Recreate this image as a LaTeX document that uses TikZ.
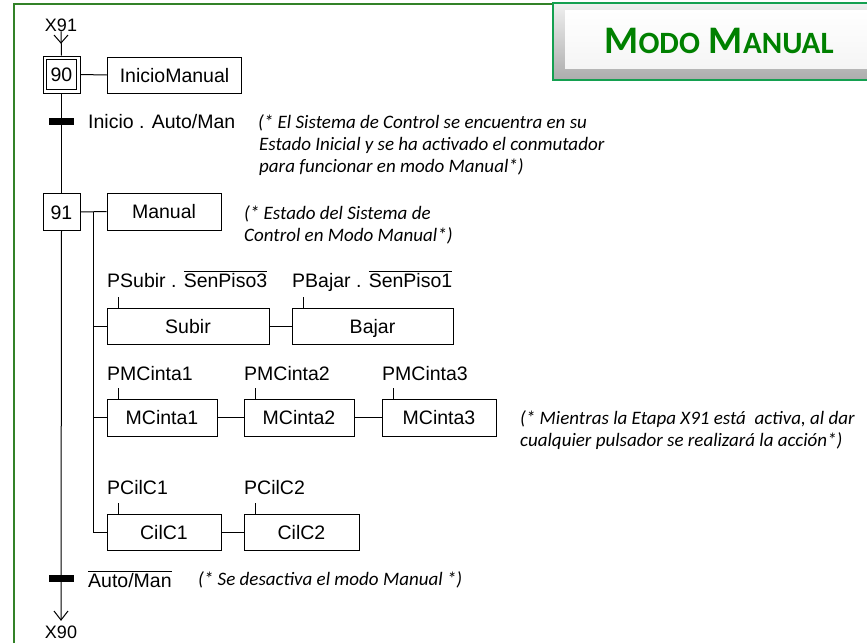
\documentclass[tikz,border=0pt]{standalone}
\usepackage{fontspec}
\setmainfont{Liberation Sans}
\newfontfamily\calib{Carlito}
\definecolor{framegreen}{RGB}{50,130,40}
\definecolor{boxgreen}{RGB}{20,160,80}
\definecolor{titlegreen}{RGB}{0,128,0}
\newcommand\ovl[1]{$\overline{\mbox{#1}}$}
\begin{document}
\begin{tikzpicture}[x=1pt,y=-1pt,
  lbl/.style={font=\fontsize{19.5}{22}\selectfont, inner sep=0},
  act/.style={draw, line width=1pt, inner sep=0, minimum height=36pt, text height=16pt, text depth=2pt, font=\fontsize{19.5}{22}\selectfont},
  stepbox/.style={draw, line width=1pt, inner sep=0, minimum width=37pt, minimum height=37pt, text height=16pt, text depth=2pt, font=\fontsize{19.5}{22}\selectfont},
  note/.style={font=\calib\itshape\fontsize{19}{22}\selectfont, inner sep=0, anchor=base west},
  trbar/.style={fill=black, minimum width=25pt, minimum height=7pt, inner sep=0},
  wire/.style={line width=1pt}]
\useasboundingbox (0,0) rectangle (867,643);
\fill[white] (0,0) rectangle (867,643);
% frame
\draw[framegreen, line width=2pt] (14,643) -- (14,4) -- (553,4);
% title box
\shade[top color=gray!12, bottom color=gray!65] (553,3) rectangle (870,80);
\shade[top color=white, bottom color=gray!8] (565,10) rectangle (870,68);
\draw[boxgreen, line width=2pt] (870,3) -- (553,3) -- (553,80) -- (870,80);
\node[inner sep=0, anchor=base, text=titlegreen, font=\calib\bfseries] (title) at (719,53)
  {{\fontsize{39}{39}\selectfont M}{\fontsize{31}{31}\selectfont ODO}\hspace{9pt}{\fontsize{39}{39}\selectfont M}{\fontsize{31}{31}\selectfont ANUAL}};
% steps
\node[lbl, anchor=base, font=\fontsize{18}{20}\selectfont] (x91) at (61,31) {X91};
\node[stepbox] (s90) at (61.5,74.5) {90};
\draw[line width=1pt] ([shift={(4,4)}]s90.north west) rectangle ([shift={(-4,-4)}]s90.south east);
\node[stepbox] (s91) at (61.5,212) {91};
\node[lbl, anchor=base, font=\fontsize{18}{20}\selectfont] (x90) at (61,638) {X90};
\coordinate (vtop) at (61,43);
\coordinate (vbot) at (61,620);
\draw[wire] (x91.south) -- (s90.north);
\draw[wire] (54,35) -- (vtop) -- (68,35);
\draw[wire] (s90.south) -- (s91.north);
\draw[wire] (s91.south) -- (vbot);
\draw[wire] (54,611) -- (vbot) -- (68,611);
\node[trbar] (t1) at (61,121) {};
\node[trbar] (t2) at (61,578) {};
\node[lbl, anchor=base west] (t1l) at (88,128) {Inicio . Auto/Man};
\node[lbl, anchor=base west] (t2l) at (88,587) {\ovl{Auto/Man}};
% actions
\node[act, minimum width=134.5pt] (ini) at (174.5,75) {InicioManual};
\draw[wire] (s90.east) -- (ini.west);
\node[act, minimum width=114pt, minimum height=37pt] (man) at (164,211.5) {Manual};
\draw[wire] (s91.east) -- (man.west);
\coordinate (br) at (93,212);
\node[act, minimum width=162pt] (sub) at (188,326) {Subir};
\node[act, minimum width=161pt] (baj) at (372.5,326) {Bajar};
\node[act, minimum width=110pt, minimum height=37pt] (m1) at (162,417.5) {MCinta1};
\node[act, minimum width=110pt, minimum height=37pt] (m2) at (299,417.5) {MCinta2};
\node[act, minimum width=114pt, minimum height=37pt] (m3) at (439,417.5) {MCinta3};
\node[act, minimum width=114pt] (c1) at (164,532) {CilC1};
\node[act, minimum width=115pt] (c2) at (301.5,532) {CilC2};
\draw[wire] (br) |- (c1.west);
\draw[wire] (br |- sub.west) -- (sub.west);
\draw[wire] (br |- m1.west) -- (m1.west);
\draw[wire] (sub.east) -- (baj.west);
\draw[wire] (m1.east) -- (m2.west);
\draw[wire] (m2.east) -- (m3.west);
\draw[wire] (c1.east) -- (c2.west);
% conditions
\node[lbl, anchor=base west] (lsub) at (107,287) {PSubir . \ovl{SenPiso3}};
\node[lbl, anchor=base west] (lbaj) at (292,287) {PBajar . \ovl{SenPiso1}};
\node[lbl, anchor=base west] (lm1) at (107,380) {PMCinta1};
\node[lbl, anchor=base west] (lm2) at (244,380) {PMCinta2};
\node[lbl, anchor=base west] (lm3) at (382,380) {PMCinta3};
\node[lbl, anchor=base west] (lc1) at (107,494) {PCilC1};
\node[lbl, anchor=base west] (lc2) at (244,494) {PCilC2};
\foreach \b in {sub,baj,m1,m2,m3,c1,c2}
  \draw[wire] ([xshift=11.5pt]\b.north west) -- ++(0,-11);
% notes
\node[note] (n1a) at (258,128.5) {(* El Sistema de Control se encuentra en su};
\node[note] (n1b) at (259,150.5) {Estado Inicial y se ha activado el conmutador};
\node[note] (n1c) at (259,172.5) {para funcionar en modo Manual*)};
\node[note] (n2a) at (244,219.5) {(* Estado del Sistema de};
\node[note] (n2b) at (244,241.5) {Control en Modo Manual*)};
\node[note] (n3a) at (520,424.5) {(* Mientras la Etapa X91 está\ \ activa, al dar};
\node[note] (n3b) at (520,446.5) {cualquier pulsador se realizará la acción*)};
\node[note] (n4) at (198,585) {(* Se desactiva el modo Manual *)};
\end{tikzpicture}
\end{document}
